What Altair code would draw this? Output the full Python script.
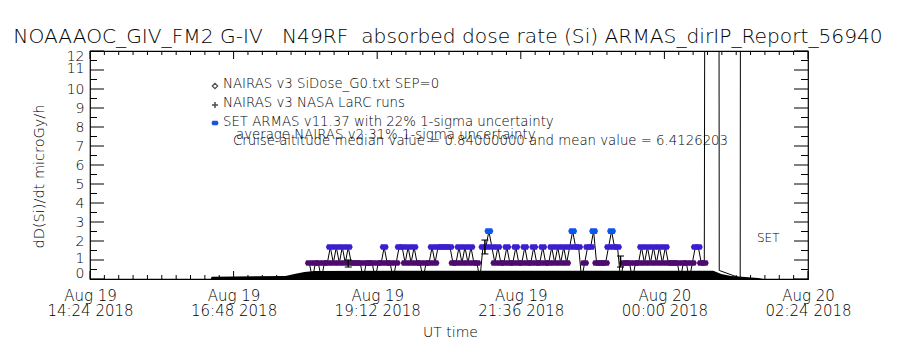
import altair as alt
import pandas as pd
import numpy as np

FONT = "DejaVu Sans"
FW = 300

# ---------------- data ----------------
TITLE = "NOAAAOC_GIV_FM2 G-IV\u00a0\u00a0 N49RF\u00a0 absorbed dose rate (Si) ARMAS_dirIP_Report_56940"
Y_TITLE = "dD(Si)/dt microGy/h"
X_TITLE = "UT time"
LEGEND_LINES = [
    "NAIRAS v3 SiDose_G0.txt SEP=0",
    "NAIRAS v3 NASA LaRC runs",
    "SET ARMAS v11.37 with 22% 1-sigma uncertainty",
    "average NAIRAS v2 31% 1-sigma uncertainty",
    "Cruise altitude median value = 0.84000000 and mean value = 6.4126203",
]
SET_LABEL = "SET"

# x axis: 2018-08-19 14:24 .. 2018-08-20 02:24 UT, labels every 2h24m
x_major = ["2018-08-19 14:24", "2018-08-19 16:48", "2018-08-19 19:12",
           "2018-08-19 21:36", "2018-08-20 00:00", "2018-08-20 02:24"]
y_labels = list(range(0, 13))

# NAIRAS v3 SiDose model (black band)
nairas_time = ["2018-08-19 16:25", "2018-08-19 16:26", "2018-08-19 17:40", "2018-08-19 17:49",
               "2018-08-19 17:59", "2018-08-19 18:09", "2018-08-19 19:30", "2018-08-19 21:00",
               "2018-08-19 22:30", "2018-08-20 00:00", "2018-08-20 00:49", "2018-08-20 00:57",
               "2018-08-20 01:07", "2018-08-20 01:21", "2018-08-20 01:34", "2018-08-20 01:39"]
nairas_val = [0.0, 0.12, 0.16, 0.26, 0.37, 0.42, 0.43, 0.44,
              0.44, 0.44, 0.43, 0.26, 0.16, 0.10, 0.05, 0.0]

# ARMAS dose rate, 3-minute samples from 18:04 UT (Z=0, P=0.84, B=1.68, T=2.52)
armas_start = "2018-08-19 18:04"
armas_codes = ("PZPPZPPBPB" "PBPBPPPPZP" "PPZPPBPPZP" "BBPBPBPPZP" "PBPBBBBBPP"
               "BPBPBPPZBB" "TBPBPPBPPB" "PPBPPBPPBP" "PBPBPBPBTB" "BZPBBTPPPP"
               "BTBBZPPPZP" "PBPBPBPBPB" "PPPPZPPZPB" "BPP")
code_value = {"Z": 0.0, "P": 0.84, "B": 1.68, "T": 2.52}
# off-scale spikes at the end of the flight
spike_time = ["2018-08-20 00:42", "2018-08-20 00:54", "2018-08-20 00:55",
              "2018-08-20 01:16", "2018-08-20 01:17"]
spike_val = [60.0, 60.0, 0.45, 0.05, 60.0]

# average NAIRAS v2 with 31% uncertainty
avg_time = ["2018-08-19 18:43", "2018-08-19 21:00", "2018-08-19 23:16"]
avg_lo = [0.63, 1.32, 0.63]
avg_hi = [1.00, 2.05, 1.21]

level_values = [0.84, 1.68, 2.52]
level_colors = ["#4c0c6e", "#3a1fd2", "#0a56f2"]

# ---------------- tables ----------------
def iso(s):
    return pd.Timestamp(s).strftime("%Y-%m-%dT%H:%M:%SZ")

nairas_df = pd.DataFrame({"t": [iso(s) for s in nairas_time], "v": nairas_val})

armas_t = pd.date_range(armas_start, periods=len(armas_codes), freq="3min")
armas_df = pd.DataFrame({
    "t": [ts.strftime("%Y-%m-%dT%H:%M:%SZ") for ts in armas_t] + [iso(s) for s in spike_time],
    "v": [code_value[c] for c in armas_codes] + spike_val,
})
avg_df = pd.DataFrame({"t": [iso(s) for s in avg_time], "lo": avg_lo, "hi": avg_hi})

xt = pd.date_range(x_major[0], x_major[-1], periods=51)
xtick_df = pd.DataFrame({"t": [ts.strftime("%Y-%m-%dT%H:%M:%SZ") for ts in xt],
                         "major": [i % 10 == 0 for i in range(51)]})
ytick_vals = [i / 2 for i in range(0, 25)]
ytick_df = pd.DataFrame({"v": ytick_vals, "major": [float(v).is_integer() for v in ytick_vals]})

def dt(s):
    ts = pd.Timestamp(s)
    return alt.DateTime(year=ts.year, month=ts.month, date=ts.day,
                        hours=ts.hour, minutes=ts.minute, utc=True)

W, H = 718, 228

xscale = alt.Scale(type="utc", domain=[dt(x_major[0]), dt(x_major[-1])], nice=False)
xaxis = alt.Axis(values=[dt(s) for s in x_major],
                 labelExpr="[utcFormat(datum.value, '%b %d'), utcFormat(datum.value, '%H:%M %Y')]",
                 ticks=False, tickSize=0, domain=False, grid=False,
                 labelFont=FONT, labelFontWeight=FW, labelFontSize=15, labelLineHeight=15,
                 labelPadding=9, labelColor="black", labelFlush=False, labelOverlap=False,
                 title=X_TITLE, titleFont=FONT, titleFontWeight=FW, titleFontSize=14,
                 titleColor="black", titleX=W / 2 + 1, titleY=53, titleBaseline="middle",
                 titleAlign="center")
yscale = alt.Scale(domain=[0, 12], nice=False, zero=False)
yaxis = alt.Axis(values=y_labels, ticks=False, tickSize=0, domain=False, grid=False,
                 labelFont=FONT, labelFontWeight=FW, labelFontSize=14, labelPadding=6,
                 labelColor="black", labelFlush=False, labelOverlap=False,
                 labelBaseline="middle",
                 labelOffset={"expr": "datum.value == 12 ? 5 : datum.value == 11 ? -2 : "
                                      "datum.value == 1 ? -2 : datum.value == 0 ? -6 : 0"},
                 title=Y_TITLE, titleFont=FONT, titleFontWeight=FW, titleFontSize=14.5,
                 titleColor="black", titleX=-51, titleY=125, titleAngle=270,
                 titleBaseline="middle", titleAlign="center")

def X(field="t"):
    return alt.X(f"{field}:T", scale=xscale, axis=xaxis)

def Y(field="v"):
    return alt.Y(f"{field}:Q", scale=yscale, axis=yaxis)

# ---------------- layers ----------------
area = alt.Chart(nairas_df).mark_area(color="black", interpolate="linear").encode(x=X(), y=Y())

line = alt.Chart(armas_df).mark_line(color="black", strokeWidth=1, clip=True).encode(
    x=X(), y=Y(), order="t:T")

marker_path = "M-1,0L-0.7,-0.62L0.7,-0.62L1,0L0.7,0.62L-0.7,0.62Z"
markers = alt.Chart(armas_df).transform_filter(
    "datum.v > 0.5 && datum.v < 3").mark_point(
    shape=marker_path, filled=True, size=80, opacity=1, strokeWidth=0).encode(
    x=X(), y=Y(),
    color=alt.Color("v:O", scale=alt.Scale(domain=level_values, range=level_colors), legend=None))

err_rule = alt.Chart(avg_df).mark_rule(color="black", strokeWidth=1.5).encode(
    x=X(), y=Y("lo"), y2="hi:Q")
err_lo = alt.Chart(avg_df).mark_tick(color="black", orient="horizontal", size=7, thickness=1.5).encode(
    x=X(), y=Y("lo"))
err_hi = alt.Chart(avg_df).mark_tick(color="black", orient="horizontal", size=7, thickness=1.5).encode(
    x=X(), y=Y("hi"))

def xticks(major, y0, y1):
    return alt.Chart(xtick_df).transform_filter(
        "datum.major" if major else "!datum.major").mark_rule(
        color="black", strokeWidth=1).encode(x=X(), y=alt.value(y0), y2=alt.value(y1))

def yticks(major, x0, x1):
    return alt.Chart(ytick_df).transform_filter(
        "datum.major" if major else "!datum.major").mark_rule(
        color="black", strokeWidth=1).encode(y=Y(), x=alt.value(x0), x2=alt.value(x1))

tick_layers = [
    xticks(True, H, H - 8), xticks(False, H, H - 4),
    xticks(True, 0, 8), xticks(False, 0, 4),
    yticks(True, 0, 14), yticks(False, 0, 7),
    yticks(True, W, W - 14), yticks(False, W, W - 7),
]

def text_layer(txt, x, y, size, align="left"):
    return alt.Chart(pd.DataFrame({"s": [txt]})).mark_text(
        font=FONT, fontWeight=FW, fontSize=size, align=align, baseline="middle",
        color="black").encode(x=alt.value(x), y=alt.value(y), text="s:N")

title = text_layer(TITLE, W / 2 - 1, -14, 20.2, align="center")

leg_y = [33, 52, 71, 84, 90]
leg_x = [133, 133, 133, 146, 143]
legend_texts = [text_layer(t, x, y, 13.3) for t, x, y in zip(LEGEND_LINES, leg_x, leg_y)]

sym_df = pd.DataFrame({"k": [0]})
sym_diamond = alt.Chart(sym_df).mark_point(shape="diamond", filled=False, color="black",
                                           size=30, strokeWidth=1.2).encode(
    x=alt.value(125), y=alt.value(leg_y[0] + 2))
sym_plus = alt.Chart(sym_df).mark_point(shape="M-1,0L1,0M0,-1L0,1", filled=False,
                                        color="black", size=36, strokeWidth=1.5).encode(
    x=alt.value(125), y=alt.value(leg_y[1] + 2))
sym_dot = alt.Chart(sym_df).mark_point(shape=marker_path, filled=True, color="#1c4fe6",
                                       size=50, opacity=1, strokeWidth=0).encode(
    x=alt.value(125), y=alt.value(leg_y[2] + 1))

set_text = text_layer(SET_LABEL, 667, 187, 12)

chart = alt.layer(
    area, line, markers, err_rule, err_lo, err_hi,
    *tick_layers, title, *legend_texts, sym_diamond, sym_plus, sym_dot, set_text,
).properties(
    width=W, height=H,
    autosize=alt.AutoSizeParams(type="none"),
    padding={"left": 90, "top": 51, "right": 92, "bottom": 71},
    background="white",
).configure_view(stroke="black", strokeWidth=1.2)

chart.save("out.html", embed_options={"renderer": "svg", "actions": False})
